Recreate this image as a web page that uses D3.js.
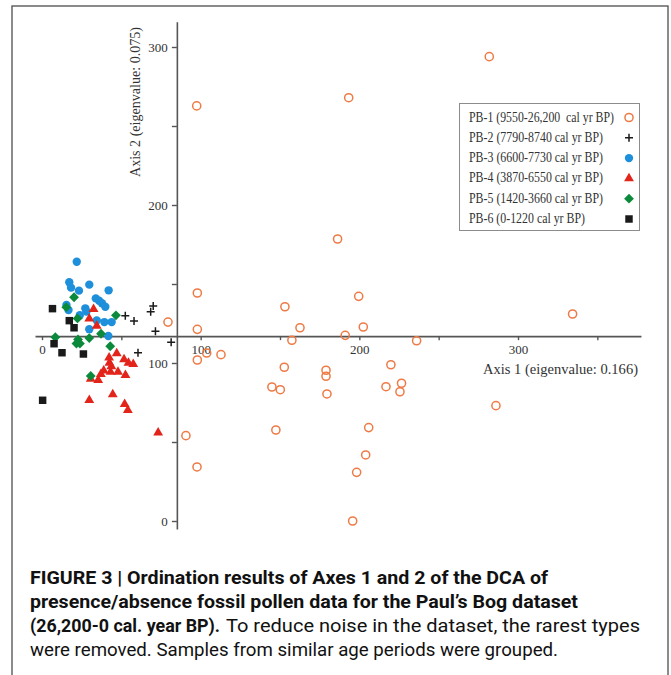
<!DOCTYPE html>
<html>
<head>
<meta charset="utf-8">
<script src="https://cdn.jsdelivr.net/npm/d3@7"></script>
<style>
body { margin: 0; background: #fff; }
svg { display: block; }
</style>
</head>
<body>
<div id="chart"></div>
<script>
// sample scores, [axis1, axis2]
var groupNames = ['PB-1 (9550-26,200  cal yr BP)', 'PB-2 (7790-8740 cal yr BP)', 'PB-3 (6600-7730 cal yr BP)',
	'PB-4 (3870-6550 cal yr BP)', 'PB-5 (1420-3660 cal yr BP)', 'PB-6 (0-1220 cal yr BP)'];

var pb1 = [[97.5,262.7],[193.3,267.9],[281.9,293.9],[186.3,178.5],[97.9,144.3],[199.6,142.2],[153.1,135.6],
	[79.4,125.9],[97.9,121.3],[162.6,122.3],[202.5,122.8],[191.1,117.5],[157.5,114.4],[236.1,114.1],
	[103.8,106.3],[112.8,105.3],[97.9,101.9],[219.9,98.9],[152.7,97.3],[179.0,95.4],[179.0,91.6],
	[144.9,84.8],[150.2,83.1],[216.8,85.0],[226.6,87.2],[225.6,81.8],[179.6,80.4],[205.9,59.1],
	[147.4,57.6],[90.7,54.0],[204.0,41.8],[97.7,34.2],[198.3,30.8],[195.8,0.0],[334.4,131.0],[286.1,73.0]];

var pb2 = [[52.5,129.9],[58.0,126.6],[70.1,136.1],[68.5,132.4],[71.5,120.1],[81.4,113.1],[60.5,106.5]];

var pb3 = [[21.9,164.1],[17.2,151.1],[18.3,147.7],[23.3,145.8],[29.8,149.6],[42.0,146.0],[15.4,136.7],
	[16.7,133.5],[33.9,140.9],[36.0,139.4],[37.8,137.8],[39.9,135.6],[27.3,134.6],[28.0,132.6],
	[23.8,130.2],[34.5,127.0],[39.3,125.9],[43.9,125.9],[29.8,121.4],[41.8,117.1]];

var pb4 = [[32.5,134.0],[29.8,128.0],[34.5,123.4],[47.1,106.0],[42.3,103.4],[51.7,102.3],[54.5,100.0],
	[57.5,99.2],[42.5,100.1],[43.7,97.8],[43.2,94.4],[47.9,94.3],[38.9,95.1],[37.1,92.9],[52.6,92.3],
	[30.7,89.9],[35.4,89.1],[44.6,80.1],[29.8,76.5],[52.1,73.9],[54.1,70.1],[73.2,55.9]];

var pb5 = [[20.2,141.6],[15.3,135.3],[22.4,128.2],[46.6,130.2],[8.4,116.3],[22.7,114.9],[23.9,112.3],
	[21.7,112.3],[29.8,115.8],[37.2,118.5],[43.0,110.6],[30.7,91.8]];

var pb6 = [[6.6,134.4],[17.2,126.8],[20.2,122.3],[7.6,112.2],[12.6,106.5],[26.1,105.7],[0.4,76.4]];

var xTicks = [0, 50, 100, 150, 200, 250, 300, 350];
var yTicks = [0, 50, 100, 150, 200, 250, 300];
var labelledTicks = [0, 100, 200, 300];

var captionBold = ['FIGURE 3 | Ordination results of Axes 1 and 2 of the DCA of',
	'presence/absence fossil pollen data for the Paul\u2019s Bog dataset',
	'(26,200-0 cal. year BP).'];
var captionPlain = ['To reduce noise in the dataset, the rarest types',
	'were removed. Samples from similar age periods were grouped.'];

var serif = '"Liberation Serif", "DejaVu Serif", serif';
var sans = '"Liberation Sans Narrow", "Roboto", "Liberation Sans", sans-serif';

var svg = d3.select('#chart').append('svg')
	.attr('width', 671)
	.attr('height', 675);

// outer frame of the figure panel
svg.append('rect')
	.attr('x', 12).attr('y', 6)
	.attr('width', 656).attr('height', 720)
	.attr('fill', 'none')
	.attr('stroke', '#4d4d4d')
	.attr('stroke-width', 1.3);

var x = d3.scaleLinear().domain([0, 300]).range([42, 518]);
var y = d3.scaleLinear().domain([0, 300]).range([521, 47]);

// axes cross inside the plot, not at the origin
var crossX = 85, crossY = 117;

var xAxisScale = x.copy().domain([-4.4, 377.5]).range([x(-4.4), x(377.5)]);
var yAxisScale = y.copy().domain([-5, 316]).range([y(-5), y(316)]);

function tickText(d) {
	return labelledTicks.indexOf(d) >= 0 ? d : '';
}

var xAxis = svg.append('g')
	.attr('transform', 'translate(0,' + y(crossY) + ')')
	.call(d3.axisBottom(xAxisScale)
		.tickValues(xTicks)
		.tickFormat(tickText)
		.tickSizeInner(4)
		.tickSizeOuter(0)
		.tickPadding(5));

var yAxis = svg.append('g')
	.attr('transform', 'translate(' + x(crossX) + ',0)')
	.call(d3.axisLeft(yAxisScale)
		.tickValues(yTicks)
		.tickFormat(tickText)
		.tickSizeInner(5)
		.tickSizeOuter(0)
		.tickPadding(4));

[xAxis, yAxis].forEach(function(a){
	a.select('.domain').attr('stroke', '#555').attr('stroke-width', 1.6);
	a.selectAll('.tick line').attr('stroke', '#555').attr('stroke-width', 1.4);
	a.selectAll('.tick text')
		.attr('fill', '#333')
		.style('font-family', serif)
		.style('font-size', '13px');
});

svg.append('text')
	.attr('transform', 'translate(140,102) rotate(-90)')
	.attr('text-anchor', 'middle')
	.attr('textLength', 150)
	.attr('lengthAdjust', 'spacingAndGlyphs')
	.attr('fill', '#333')
	.style('font-family', serif)
	.style('font-size', '14px')
	.text('Axis 2 (eigenvalue: 0.075)');

svg.append('text')
	.attr('x', 483).attr('y', 374)
	.attr('textLength', 155)
	.attr('lengthAdjust', 'spacingAndGlyphs')
	.attr('fill', '#333')
	.style('font-family', serif)
	.style('font-size', '14.5px')
	.text('Axis 1 (eigenvalue: 0.166)');

// marker drawing per group
var orange = '#ee7a45', blue = '#1d8fdb', red = '#e3241b', green = '#0b8a3b', black = '#1a1a1a';

var markers = [
	{ fill: 'none', stroke: orange, sw: 1.5, d: d3.symbol(d3.symbolCircle, 52)(), rot: 0 },
	{ fill: 'none', stroke: black, sw: 1.5, d: 'M-4,0H4M0,-4V4', rot: 0 },
	{ fill: blue, stroke: 'none', sw: 0, d: d3.symbol(d3.symbolCircle, 55)(), rot: 0 },
	{ fill: red, stroke: 'none', sw: 0, d: d3.symbol(d3.symbolTriangle, 42)(), rot: 0 },
	{ fill: green, stroke: 'none', sw: 0, d: d3.symbol(d3.symbolSquare, 48)(), rot: 45 },
	{ fill: black, stroke: 'none', sw: 0, d: d3.symbol(d3.symbolSquare, 56)(), rot: 0 }
];

var groups = [pb1, pb2, pb3, pb4, pb5, pb6];

groups.forEach(function(pts, i){
	var m = markers[i];
	svg.append('g')
		.selectAll('path')
		.data(pts)
		.enter()
		.append('path')
			.attr('transform', function(d){
				return 'translate(' + x(d[0]) + ',' + y(d[1]) + ') rotate(' + m.rot + ')';
			})
			.attr('d', m.d)
			.attr('fill', m.fill)
			.attr('stroke', m.stroke)
			.attr('stroke-width', m.sw);
});

// legend
var legend = svg.append('g');
legend.append('rect')
	.attr('x', 459.5).attr('y', 103.5)
	.attr('width', 180).attr('height', 127)
	.attr('fill', '#fff')
	.attr('stroke', '#8c8c8c')
	.attr('stroke-width', 1);

var rowY = d3.scalePoint().domain(d3.range(groupNames.length)).range([116.5, 218]);
var rowWidth = [145, 134, 134, 134, 134, 116];

groupNames.forEach(function(name, i){
	var m = markers[i];
	legend.append('text')
		.attr('x', 469).attr('y', rowY(i) + 5)
		.attr('textLength', rowWidth[i])
		.attr('lengthAdjust', 'spacingAndGlyphs')
		.attr('fill', '#333')
		.attr('xml:space', 'preserve')
		.style('white-space', 'pre')
		.style('font-family', serif)
		.style('font-size', '14px')
		.text(name);
	legend.append('path')
		.attr('transform', 'translate(629,' + (rowY(i) + 1) + ') rotate(' + m.rot + ')')
		.attr('d', m.d)
		.attr('fill', m.fill)
		.attr('stroke', m.stroke)
		.attr('stroke-width', m.sw);
});

// caption
var capLines = [
	{ t: captionBold[0], bold: true, x: 30, w: 518, y: 584 },
	{ t: captionBold[1], bold: true, x: 30, w: 548, y: 608 },
	{ t: captionBold[2], bold: true, x: 30, w: 190, y: 632 },
	{ t: captionPlain[0], bold: false, x: 226, w: 414, y: 632 },
	{ t: captionPlain[1], bold: false, x: 30, w: 528, y: 656 }
];

svg.append('g').selectAll('text')
	.data(capLines)
	.enter()
	.append('text')
		.attr('x', function(d){ return d.x; })
		.attr('y', function(d){ return d.y; })
		.attr('textLength', function(d){ return d.w; })
		.attr('lengthAdjust', 'spacingAndGlyphs')
		.attr('fill', '#111')
		.style('font-family', sans)
		.style('font-size', '18px')
		.style('font-weight', function(d){ return d.bold ? 700 : 400; })
		.text(function(d){ return d.t; });
</script>
</body>
</html>
